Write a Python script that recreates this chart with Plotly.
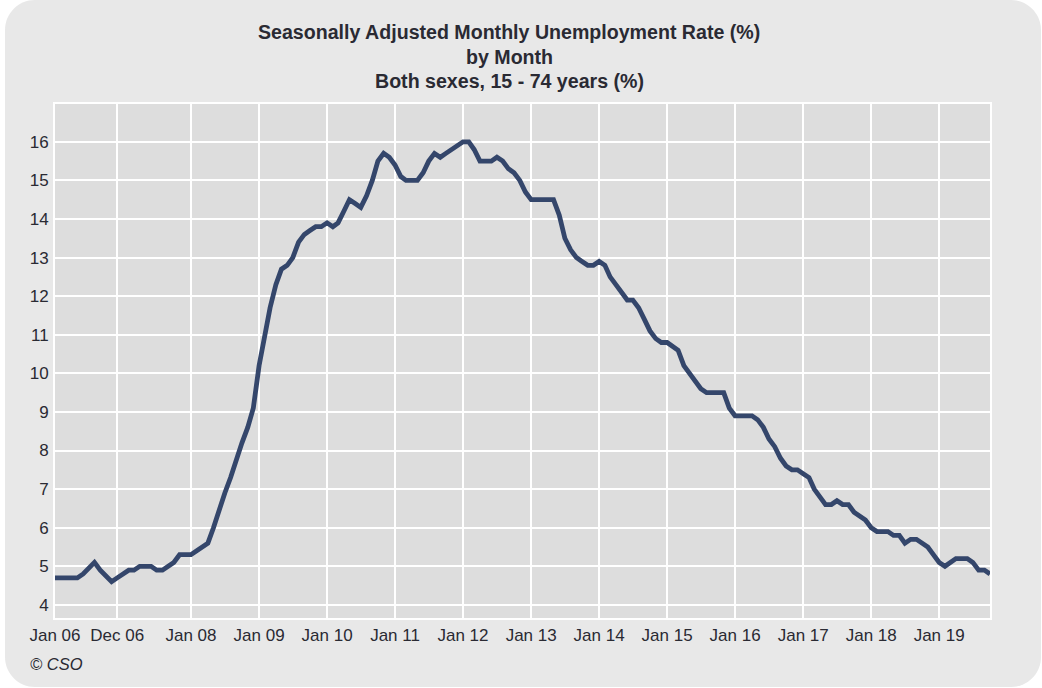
import pandas as pd
import plotly.graph_objects as go

# ---- data ----
start_month = "2006-01-01"
rate = [
    4.7, 4.7, 4.7, 4.7, 4.7, 4.8, 4.95, 5.1, 4.9, 4.75, 4.6, 4.7,          # 2006
    4.8, 4.9, 4.9, 5.0, 5.0, 5.0, 4.9, 4.9, 5.0, 5.1, 5.3, 5.3,            # 2007
    5.3, 5.4, 5.5, 5.6, 6.0, 6.5, 6.9, 7.3, 7.8, 8.2, 8.6, 9.1,            # 2008
    10.2, 11.0, 11.7, 12.3, 12.7, 12.8, 13.0, 13.4, 13.6, 13.7, 13.8, 13.8,  # 2009
    13.9, 13.8, 13.9, 14.2, 14.5, 14.4, 14.3, 14.6, 15.0, 15.5, 15.7, 15.6,  # 2010
    15.4, 15.1, 15.0, 15.0, 15.0, 15.2, 15.5, 15.7, 15.6, 15.7, 15.8, 15.9,  # 2011
    16.0, 16.0, 15.8, 15.5, 15.5, 15.5, 15.6, 15.5, 15.3, 15.2, 15.0, 14.7,  # 2012
    14.5, 14.5, 14.5, 14.5, 14.5, 14.1, 13.5, 13.2, 13.0, 12.9, 12.8, 12.8,  # 2013
    12.9, 12.8, 12.5, 12.3, 12.1, 11.9, 11.9, 11.7, 11.4, 11.1, 10.9, 10.8,  # 2014
    10.8, 10.7, 10.6, 10.2, 10.0, 9.8, 9.6, 9.5, 9.5, 9.5, 9.5, 9.1,        # 2015
    8.9, 8.9, 8.9, 8.9, 8.8, 8.6, 8.3, 8.1, 7.8, 7.6, 7.5, 7.5,             # 2016
    7.4, 7.3, 7.0, 6.8, 6.6, 6.6, 6.7, 6.6, 6.6, 6.4, 6.3, 6.2,             # 2017
    6.0, 5.9, 5.9, 5.9, 5.8, 5.8, 5.6, 5.7, 5.7, 5.6, 5.5, 5.3,             # 2018
    5.1, 5.0, 5.1, 5.2, 5.2, 5.2, 5.1, 4.9, 4.9, 4.8,                       # 2019
]
tick_dates = ["2006-01-01", "2006-12-01", "2008-01-01", "2009-01-01", "2010-01-01",
              "2011-01-01", "2012-01-01", "2013-01-01", "2014-01-01", "2015-01-01",
              "2016-01-01", "2017-01-01", "2018-01-01", "2019-01-01"]
tick_labels = ["Jan 06", "Dec 06", "Jan 08", "Jan 09", "Jan 10", "Jan 11", "Jan 12",
               "Jan 13", "Jan 14", "Jan 15", "Jan 16", "Jan 17", "Jan 18", "Jan 19"]
y_ticks = list(range(4, 17))
title_lines = ["Seasonally Adjusted Monthly Unemployment Rate (%)",
               "by Month",
               "Both sexes, 15 - 74 years (%)"]

months = pd.date_range(start_month, periods=len(rate), freq="MS")

# ---- layout geometry (pixels) ----
W, H = 1042, 688
L, R, T, B = 55, 52, 104, 70
pw, ph = W - L - R, H - T - B


def px(x):
    return (x - L) / pw


def py(y):
    return (H - B - y) / ph


FONT = "Liberation Sans, Arial, sans-serif"
TXT = "#2a2a33"

fig = go.Figure()
fig.add_trace(go.Scatter(
    x=months, y=rate, mode="lines",
    line=dict(color="#34466b", width=4.8),
    hoverinfo="x+y", showlegend=False,
))

# rounded panel behind everything
x0, x1, y0, y1 = px(5), px(1041), py(687), py(0)
rx, ry = 30 / pw, 30 / ph
k = 0.4477
panel = (
    f"M {x0 + rx},{y1} L {x1 - rx},{y1} "
    f"C {x1 - rx * k},{y1} {x1},{y1 - ry * k} {x1},{y1 - ry} "
    f"L {x1},{y0 + ry} "
    f"C {x1},{y0 + ry * k} {x1 - rx * k},{y0} {x1 - rx},{y0} "
    f"L {x0 + rx},{y0} "
    f"C {x0 + rx * k},{y0} {x0},{y0 + ry * k} {x0},{y0 + ry} "
    f"L {x0},{y1 - ry} "
    f"C {x0},{y1 - ry * k} {x0 + rx * k},{y1} {x0 + rx},{y1} Z"
)
shapes = [
    dict(type="path", xref="paper", yref="paper", path=panel,
         fillcolor="#e8e8e8", line=dict(width=0), layer="below"),
    dict(type="rect", xref="paper", yref="paper", x0=0, x1=1, y0=0, y1=1,
         fillcolor="#dddddd", line=dict(width=0), layer="below"),
]

annotations = []
for txt, yy in zip(title_lines, [32, 57, 81]):
    annotations.append(dict(
        text=f"<b>{txt}</b>", xref="paper", yref="paper",
        x=px(509), y=py(yy), xanchor="center", yanchor="middle",
        showarrow=False, font=dict(family=FONT, size=19.6, color=TXT),
    ))
annotations.append(dict(
    text="<i>© CSO</i>", xref="paper", yref="paper",
    x=px(28), y=py(664), xanchor="left", yanchor="middle",
    showarrow=False, font=dict(family=FONT, size=16.5, color=TXT),
))

fig.update_layout(
    width=W, height=H,
    margin=dict(l=L, r=R, t=T, b=B, pad=0),
    paper_bgcolor="white",
    plot_bgcolor="#dddddd",
    shapes=shapes,
    annotations=annotations,
    font=dict(family=FONT, size=17, color=TXT),
    xaxis=dict(
        range=[months[0], months[-1]],
        tickvals=tick_dates, ticktext=tick_labels,
        tickangle=0,
        showgrid=True, gridcolor="white", gridwidth=2,
        showline=True, linecolor="white", linewidth=2, mirror=True,
        ticks="outside", ticklen=1, tickcolor="rgba(0,0,0,0)",
        tickfont=dict(size=17, color=TXT),
        zeroline=False, fixedrange=True,
    ),
    yaxis=dict(
        range=[3.66, 16.98],
        tickvals=y_ticks,
        showgrid=True, gridcolor="white", gridwidth=2,
        showline=True, linecolor="white", linewidth=2, mirror=True,
        ticks="outside", ticklen=1, tickcolor="rgba(0,0,0,0)",
        tickfont=dict(size=17, color=TXT),
        zeroline=False, fixedrange=True,
    ),
)

fig.write_html(
    "out.html",
    config={"displayModeBar": False},
    post_script="document.body.style.margin='0';document.body.style.overflow='hidden';",
)
